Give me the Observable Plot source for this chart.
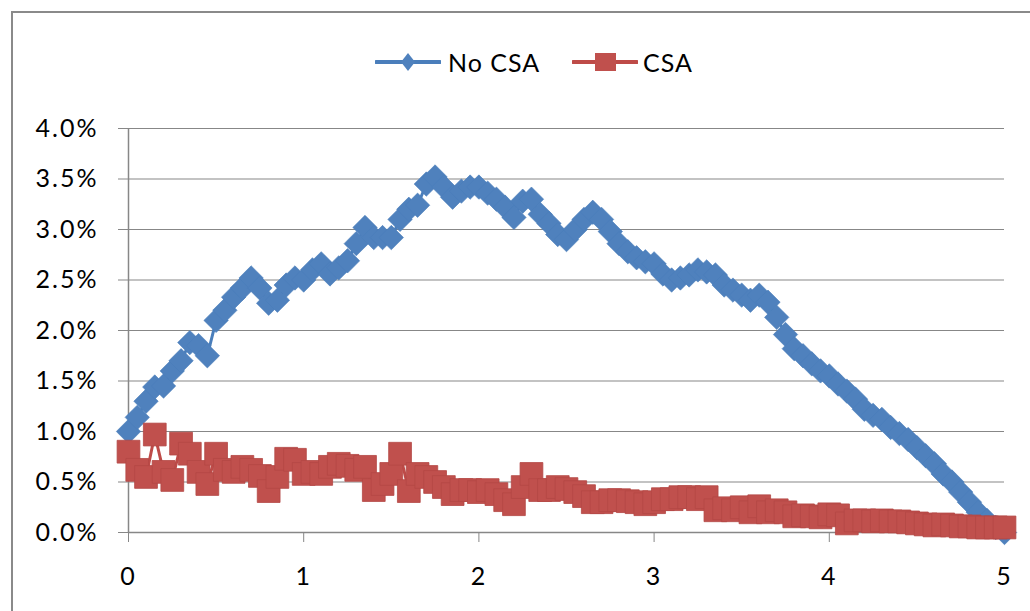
<!DOCTYPE html>
<html>
<head>
<meta charset="utf-8">
<script src="https://cdn.jsdelivr.net/npm/d3@7"></script>
<script src="https://cdn.jsdelivr.net/npm/@observablehq/plot@0.6"></script>
<style>
  html, body { margin: 0; padding: 0; background: #fff; overflow: hidden; }
  #wrap { position: relative; width: 1030px; height: 611px; font-family: Lato, "Open Sans", sans-serif; }
  #frame { position: absolute; left: 11px; top: 11px; width: 1100px; height: 700px;
           border: 2px solid #8a8a8a; box-sizing: border-box; }
  #chart { position: absolute; left: 0; top: 0; }
  #chart svg text { letter-spacing: 2px; }
  .key { position: absolute; top: 48px; height: 28px; display: flex; align-items: center;
         font-size: 25px; letter-spacing: 1px; color: #000; }
  .key svg { display: block; }
</style>
</head>
<body>
<div id="wrap">
  <div id="frame"></div>
  <div id="chart"></div>
  <div class="key" style="left:375px">
    <svg width="66" height="28"><line x1="1" y1="14" x2="65" y2="14" stroke="#4a7ebb" stroke-width="4" stroke-linecap="round"/><path d="M33,5 L40,14 L33,23 L26,14 Z" fill="#4f81bd"/></svg>
    <span style="margin-left:7px">No CSA</span>
  </div>
  <div class="key" style="left:572px">
    <svg width="66" height="28"><line x1="1" y1="14" x2="65" y2="14" stroke="#be4b48" stroke-width="4" stroke-linecap="round"/><rect x="23" y="5" width="21" height="18" fill="#c0504d"/></svg>
    <span style="margin-left:5px">CSA</span>
  </div>
</div>
<script>
// Time points (x) shared by both series
const t = [0, 0.05, 0.1, 0.15, 0.2, 0.25, 0.3, 0.35, 0.4, 0.45,
  0.5, 0.55, 0.6, 0.65, 0.7, 0.75, 0.8, 0.85, 0.9, 0.95,
  1, 1.05, 1.1, 1.15, 1.2, 1.25, 1.3, 1.35, 1.4, 1.45,
  1.5, 1.55, 1.6, 1.65, 1.7, 1.75, 1.8, 1.85, 1.9, 1.95,
  2, 2.05, 2.1, 2.15, 2.2, 2.25, 2.3, 2.35, 2.4, 2.45,
  2.5, 2.55, 2.6, 2.65, 2.7, 2.75, 2.8, 2.85, 2.9, 2.95,
  3, 3.05, 3.1, 3.15, 3.2, 3.25, 3.3, 3.35, 3.4, 3.45,
  3.5, 3.55, 3.6, 3.65, 3.7, 3.75, 3.8, 3.85, 3.9, 3.95,
  4, 4.05, 4.1, 4.15, 4.2, 4.25, 4.3, 4.35, 4.4, 4.45,
  4.5, 4.55, 4.6, 4.65, 4.7, 4.75, 4.8, 4.85, 4.9, 4.95, 5];

// "No CSA" series, in percent
const noCsa = [1.0, 1.14, 1.3, 1.44, 1.45, 1.6, 1.7, 1.88, 1.85, 1.75,
  2.1, 2.2, 2.33, 2.42, 2.52, 2.42, 2.27, 2.3, 2.45, 2.52,
  2.5, 2.6, 2.66, 2.56, 2.62, 2.69, 2.86, 3.02, 2.92, 2.92,
  2.92, 3.1, 3.2, 3.24, 3.45, 3.52, 3.42, 3.32, 3.38, 3.42,
  3.42, 3.36, 3.3, 3.22, 3.12, 3.28, 3.3, 3.15, 3.06, 2.95,
  2.9, 3.0, 3.1, 3.17, 3.1, 2.98, 2.86, 2.78, 2.72, 2.68,
  2.66, 2.56, 2.5, 2.52, 2.55, 2.6, 2.58, 2.55, 2.45, 2.4,
  2.35, 2.3, 2.35, 2.28, 2.13, 1.96, 1.82, 1.75, 1.67, 1.6,
  1.55, 1.47, 1.4, 1.32, 1.22, 1.16, 1.12, 1.04, 0.98, 0.92,
  0.84, 0.76, 0.68, 0.58, 0.5, 0.4, 0.3, 0.2, 0.12, 0.05, 0.0];

// "CSA" series, in percent
const csa = [0.8, 0.62, 0.55, 0.97, 0.6, 0.52, 0.88, 0.78, 0.6, 0.48,
  0.78, 0.62, 0.6, 0.65, 0.62, 0.56, 0.41, 0.55, 0.73, 0.72,
  0.58, 0.6, 0.58, 0.65, 0.68, 0.66, 0.62, 0.65, 0.42, 0.48,
  0.58, 0.78, 0.41, 0.58, 0.55, 0.5, 0.45, 0.38, 0.42, 0.42,
  0.4, 0.42, 0.38, 0.32, 0.28, 0.45, 0.58, 0.42, 0.42, 0.45,
  0.43, 0.4, 0.36, 0.3, 0.3, 0.32, 0.32, 0.31, 0.3, 0.28,
  0.3, 0.33, 0.33, 0.35, 0.35, 0.33, 0.35, 0.22, 0.24, 0.22,
  0.25, 0.2, 0.26, 0.2, 0.22, 0.2, 0.16, 0.17, 0.16, 0.15,
  0.18, 0.17, 0.09, 0.12, 0.12, 0.11, 0.12, 0.11, 0.11, 0.1,
  0.09, 0.08, 0.07, 0.08, 0.07, 0.06, 0.06, 0.05, 0.05, 0.05, 0.05];

const xTicks = [0, 1, 2, 3, 4, 5];
const yTicks = [0, 0.5, 1, 1.5, 2, 2.5, 3, 3.5, 4];

const blueRows = t.map((x, i) => ({x, v: noCsa[i]}));
const redRows = t.map((x, i) => ({x, v: csa[i]}));

const grey = "#878787";
const blue = "#4f81bd", blueLine = "#4a7ebb";
const red = "#c0504d", redLine = "#be4b48";

const chart = Plot.plot({
  width: 1030,
  height: 611,
  marginLeft: 128,
  marginRight: 26,
  marginTop: 128,
  marginBottom: 79,
  style: {fontFamily: "Lato, 'Open Sans', sans-serif", fontSize: "25px", color: "#000", background: "transparent"},
  x: {domain: [0, 5]},
  y: {domain: [0, 4]},
  marks: [
    Plot.gridY(yTicks, {stroke: grey, strokeOpacity: 1}),
    Plot.ruleX([0], {stroke: grey, strokeWidth: 1.5}),
    Plot.ruleY([0], {stroke: grey, strokeWidth: 1.5}),
    Plot.axisY(yTicks, {tickSize: 10, tickPadding: 20, stroke: grey, fill: "#000",
      tickFormat: d => d.toFixed(1) + "%", label: null}),
    Plot.axisX(xTicks, {tickSize: 10, tickPadding: 25, stroke: grey, fill: "#000",
      tickFormat: d => String(d), label: null}),
    // No CSA: line, then diamond markers
    Plot.line(blueRows, {x: "x", y: "v", stroke: blueLine, strokeWidth: 3}),
    Plot.dot(blueRows, {x: "x", y: "v", symbol: "diamond2", r: 11, fill: blue, stroke: blueLine, strokeWidth: 0.6}),
    // CSA: line, then square markers
    Plot.line(redRows, {x: "x", y: "v", stroke: redLine, strokeWidth: 3}),
    Plot.dot(redRows, {x: "x", y: "v", symbol: "square2", r: 14.5, fill: red, stroke: "#b44845", strokeWidth: 0.8})
  ]
});
document.getElementById("chart").appendChild(chart);
</script>
</body>
</html>
